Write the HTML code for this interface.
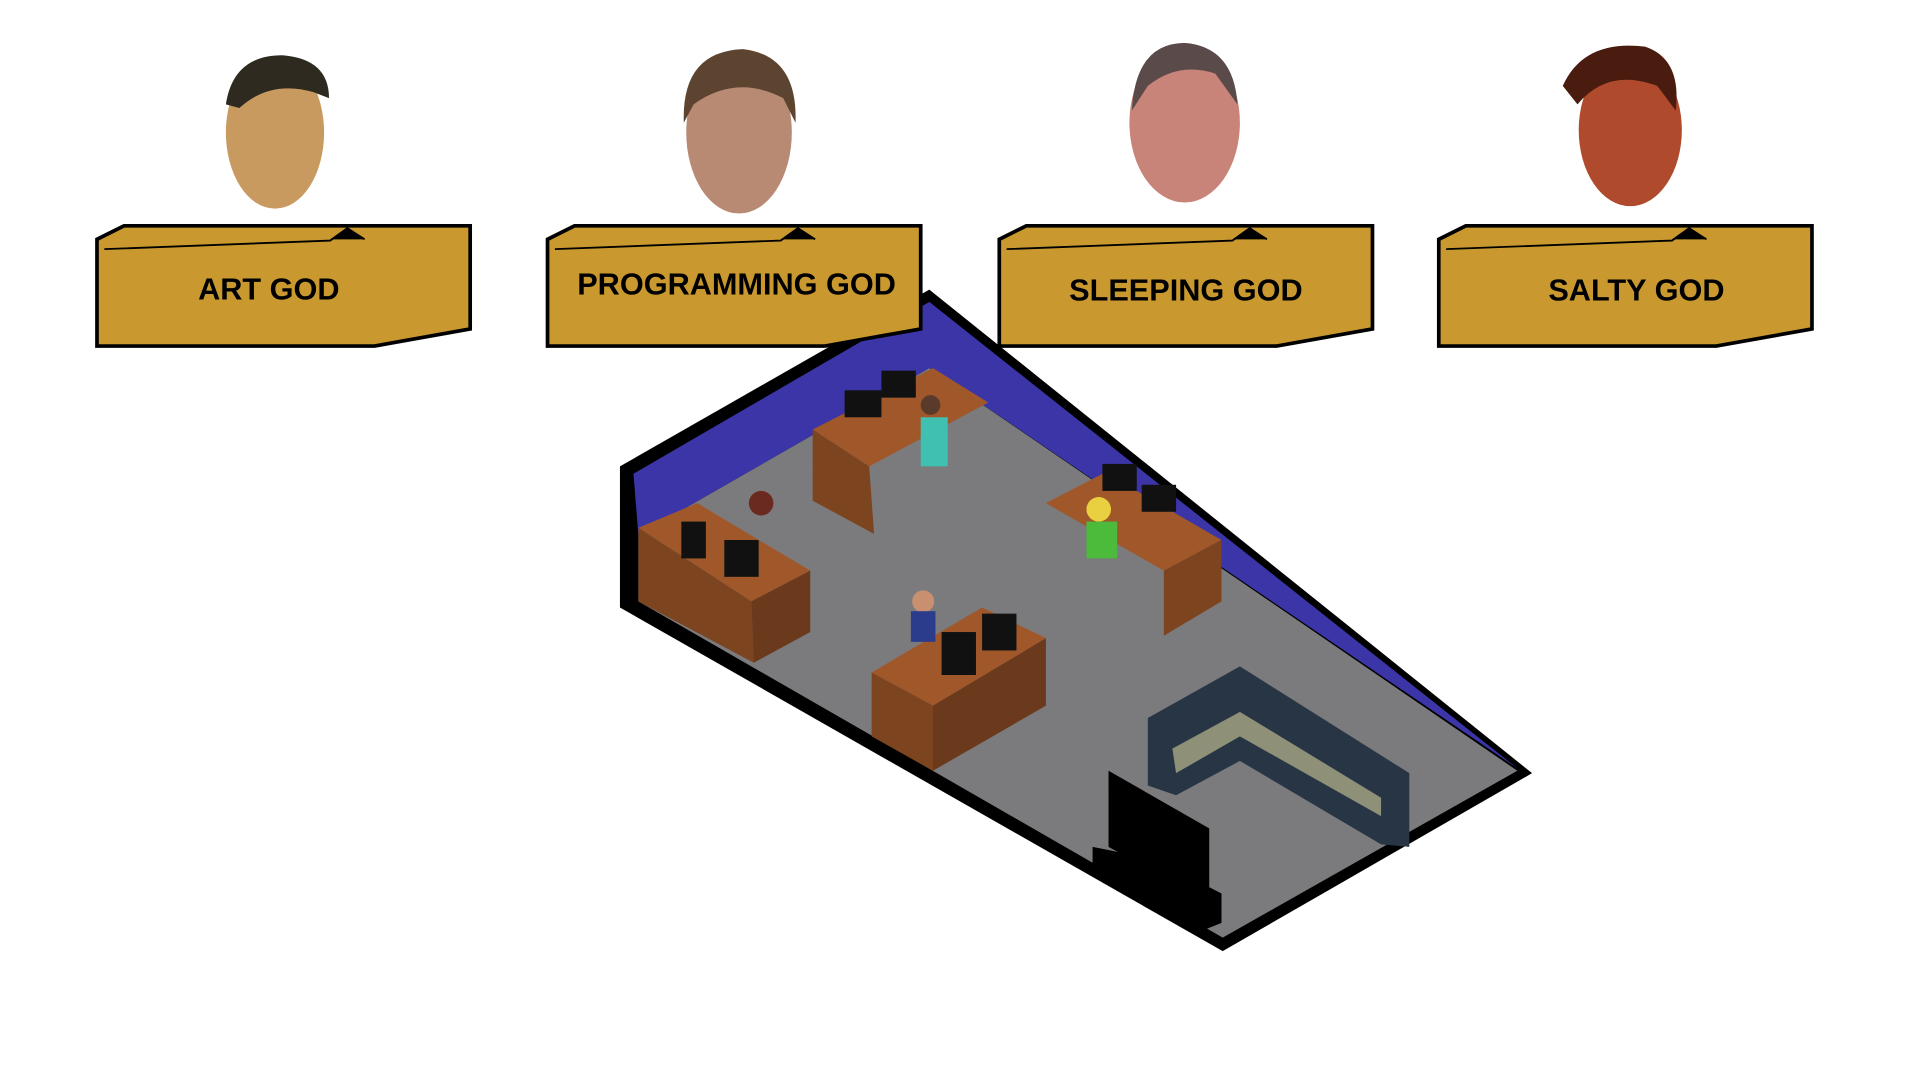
<!DOCTYPE html>
<html><head><meta charset="utf-8"><style>
html,body{margin:0;padding:0;background:#fff;width:1920px;height:1080px;overflow:hidden}
svg{display:block}
text{font-family:"Liberation Sans",sans-serif;font-weight:bold;fill:#000}
</style></head><body>
<svg width="1920" height="1080" viewBox="0 0 1564 880" preserveAspectRatio="none">
<g>
<polygon points="505,380 757,236 1248,630 996,775 505,495" fill="#000"/>
<polygon points="516,386 757,246 1236,626 757,300 520,436" fill="#3b35a8"/>
<polygon points="520,436 757,300 1236,628 996,764 520,490" fill="#7b7a7c"/>
<g><polygon points="662,350 760,300 805,328 708,380" fill="#a0582a"/><polygon points="662,350 708,380 712,435 662,408" fill="#7d4420"/><rect x="688" y="318" width="30" height="22" fill="#111"/><rect x="718" y="302" width="28" height="22" fill="#111"/><circle cx="758" cy="330" r="8" fill="#5a3a2a"/><rect x="750" y="340" width="22" height="40" fill="#3fc0b0"/></g>
<g><polygon points="520,430 568,410 660,465 612,490" fill="#a0582a"/><polygon points="520,430 612,490 614,540 520,490" fill="#7d4420"/><polygon points="612,490 660,465 660,515 614,540" fill="#6b3a1c"/><rect x="555" y="425" width="20" height="30" fill="#111"/><rect x="590" y="440" width="28" height="30" fill="#111"/><circle cx="620" cy="410" r="10" fill="#6b2a20"/></g>
<g><polygon points="852,410 900,385 995,440 948,465" fill="#a0582a"/><polygon points="948,465 995,440 995,490 948,518" fill="#7d4420"/><rect x="898" y="378" width="28" height="22" fill="#111"/><rect x="930" y="395" width="28" height="22" fill="#111"/><circle cx="895" cy="415" r="10" fill="#e8d040"/><rect x="885" y="425" width="25" height="30" fill="#4cbb3c"/></g>
<g><polygon points="710,548 800,495 852,520 760,575" fill="#a0582a"/><polygon points="710,548 760,575 760,628 710,600" fill="#7d4420"/><polygon points="760,575 852,520 852,575 760,628" fill="#6b3a1c"/><rect x="767" y="515" width="28" height="35" fill="#111"/><rect x="800" y="500" width="28" height="30" fill="#111"/><circle cx="752" cy="490" r="9" fill="#c89070"/><rect x="742" y="498" width="20" height="25" fill="#2c3c8c"/></g>
<g><polygon points="935,585 1010,543 1148,630 1148,690 1125,688 1010,620 958,648 935,640" fill="#273545"/><polygon points="955,610 1010,580 1125,650 1125,665 1010,600 958,630" fill="#8e9077"/></g>
<g><polygon points="903,628 985,675 985,735 903,690" fill="#000"/><polygon points="890,690 940,700 995,728 995,752 975,760 890,712" fill="#000"/></g>
</g>
<g>
<ellipse cx="224" cy="108" rx="40" ry="62" fill="#c99a60"/><path d="M184,85 Q190,45 230,45 Q268,48 268,80 L255,75 Q220,65 195,88Z" fill="#2e2a20"/>
<ellipse cx="602" cy="108" rx="43" ry="66" fill="#b88a74"/><path d="M557,100 Q555,42 605,40 Q650,45 648,100 L638,80 Q600,60 565,85Z" fill="#5c4430"/>
<ellipse cx="965" cy="100" rx="45" ry="65" fill="#c88478"/><path d="M922,90 Q925,35 965,35 Q1005,38 1008,85 L990,60 Q960,50 935,70Z" fill="#5a4a4a"/>
<ellipse cx="1328" cy="106" rx="42" ry="62" fill="#b04a2c"/><path d="M1273,70 Q1290,32 1340,38 Q1370,48 1365,90 L1350,70 Q1310,55 1285,85Z" fill="#4a1c10"/>
</g>
<g>
<g transform="translate(79,0)"><polygon points="0,195 22,184 304,184 304,268 226,282 0,282" fill="#c9992f" stroke="#000" stroke-width="3"/><polyline points="6,203 190,196 204,186 218,195" fill="none" stroke="#000" stroke-width="1.5"/><polygon points="190,195 204,185 218,195" fill="#000"/><text x="140" y="244" font-size="25" text-anchor="middle">ART GOD</text></g>
<g transform="translate(446,0)"><polygon points="0,195 22,184 304,184 304,268 226,282 0,282" fill="#c9992f" stroke="#000" stroke-width="3"/><polyline points="6,203 190,196 204,186 218,195" fill="none" stroke="#000" stroke-width="1.5"/><polygon points="190,195 204,185 218,195" fill="#000"/><text x="154" y="240" font-size="25" text-anchor="middle">PROGRAMMING GOD</text></g>
<g transform="translate(814,0)"><polygon points="0,195 22,184 304,184 304,268 226,282 0,282" fill="#c9992f" stroke="#000" stroke-width="3"/><polyline points="6,203 190,196 204,186 218,195" fill="none" stroke="#000" stroke-width="1.5"/><polygon points="190,195 204,185 218,195" fill="#000"/><text x="152" y="245" font-size="25" text-anchor="middle">SLEEPING GOD</text></g>
<g transform="translate(1172,0)"><polygon points="0,195 22,184 304,184 304,268 226,282 0,282" fill="#c9992f" stroke="#000" stroke-width="3"/><polyline points="6,203 190,196 204,186 218,195" fill="none" stroke="#000" stroke-width="1.5"/><polygon points="190,195 204,185 218,195" fill="#000"/><text x="161" y="245" font-size="25" text-anchor="middle">SALTY GOD</text></g>
</g>
</svg>
</body></html>
